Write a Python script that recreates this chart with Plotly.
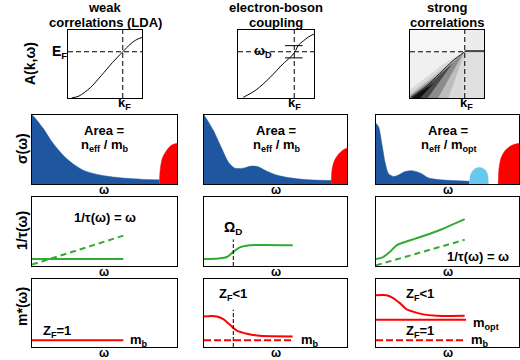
import plotly.graph_objects as go

W, H = 520, 360

# ---------------- data (all in panel fractions 0..1) ----------------
titles_top = ['weak', 'electron-boson', 'strong']
titles_bottom = ['correlations (LDA)', 'coupling', 'correlations']
row_labels = ['A(k,ω)', 'σ(ω)', '1/τ(ω)', 'm*(ω)']

k_F = 0.74
E_F = 0.68

# row 1: band dispersions
lda_k = [0.05, 0.15, 0.30, 0.45, 0.60, 0.74, 0.85, 0.93, 1.0]
lda_e = [0.0, 0.03, 0.15, 0.33, 0.52, 0.68, 0.80, 0.86, 0.89]
eb_k = [0.07, 0.24, 0.42, 0.59, 0.68, 0.73, 0.76, 0.79, 0.86, 0.93, 1.0]
eb_e = [0.01, 0.12, 0.30, 0.50, 0.59, 0.65, 0.70, 0.77, 0.84, 0.90, 0.94]
wD_lo, wD_hi = 0.59, 0.77
wD_k = [0.62, 0.85]

# strong correlations: grey bands of spectral weight (outer -> inner)
wedge_x = [
    [0.0, 0.70, 0.74, 0.45, 0.0],
    [0.0, 0.52, 0.74, 0.50, 0.0],
    [0.02, 0.38, 0.72, 0.45, 0.0],
    [0.02, 0.24, 0.58, 0.30, 0.0],
    [0.03, 0.14, 0.32, 0.10],
]
wedge_y = [
    [0.0, 0.0, 0.68, 0.50, 0.12],
    [0.0, 0.0, 0.68, 0.48, 0.06],
    [0.0, 0.0, 0.66, 0.40, 0.03],
    [0.0, 0.0, 0.52, 0.24, 0.01],
    [0.0, 0.0, 0.22, 0.06],
]
wedge_col = ['#dadada', '#bdbdbd', '#8c8c8c', '#4a4a4a', '#111111']
qp_k = [0.03, 0.20, 0.40, 0.58, 0.74]
qp_e = [0.01, 0.15, 0.36, 0.55, 0.68]

# row 2: optical conductivity
drude1_w = [0.0, 0.007, 0.076, 0.145, 0.238, 0.353, 0.469, 0.607, 0.746, 0.878]
drude1_s = [1.0, 0.99, 0.81, 0.59, 0.37, 0.20, 0.13, 0.09, 0.07, 0.06]
inter1_w = [0.878, 0.885, 0.90, 0.93, 0.96, 1.0]
inter1_s = [0.0, 0.22, 0.38, 0.49, 0.56, 0.59]

drude2_w = [0.0, 0.007, 0.065, 0.123, 0.17, 0.216, 0.274, 0.333, 0.379, 0.426, 0.507, 0.60, 0.74, 0.89]
drude2_s = [1.0, 0.98, 0.78, 0.52, 0.32, 0.23, 0.23, 0.26, 0.25, 0.20, 0.13, 0.09, 0.06, 0.05]
inter2_w = [0.89, 0.895, 0.91, 0.94, 0.97, 1.0]
inter2_s = [0.0, 0.20, 0.33, 0.43, 0.49, 0.52]

drude3_w = [0.0, 0.018, 0.042, 0.065, 0.088, 0.122, 0.157, 0.203, 0.261, 0.319, 0.365, 0.457, 0.654]
drude3_s = [0.88, 0.83, 0.57, 0.30, 0.15, 0.11, 0.13, 0.18, 0.19, 0.15, 0.09, 0.06, 0.04]
mir3_w = [0.654, 0.66, 0.675, 0.70, 0.72, 0.745, 0.77, 0.782, 0.785]
mir3_s = [0.0, 0.12, 0.19, 0.23, 0.24, 0.23, 0.19, 0.12, 0.0]
inter3_w = [0.855, 0.86, 0.875, 0.905, 0.95, 1.0]
inter3_s = [0.0, 0.22, 0.38, 0.49, 0.56, 0.59]

# row 3: scattering rate
tau1_w = [0.0, 0.63]
tau1 = [0.10, 0.10]
lin1 = [0.02, 0.44]
tau2_w = [0.0, 0.10, 0.16, 0.205, 0.25, 0.32, 0.62]
tau2 = [0.10, 0.11, 0.13, 0.205, 0.27, 0.30, 0.30]
omegaD = 0.205
tau3_w = [0.0, 0.05, 0.097, 0.144, 0.19, 0.28, 0.42, 0.62]
tau3 = [0.10, 0.13, 0.205, 0.30, 0.34, 0.40, 0.50, 0.68]
lin3_w = [0.0, 0.62]
lin3 = [0.01, 0.38]

# row 4: effective mass
mb_w = [0.0, 0.63]
mb = [0.10, 0.10]
m2_w = [0.0, 0.09, 0.135, 0.18, 0.23, 0.30, 0.39, 0.62]
m2 = [0.45, 0.45, 0.41, 0.33, 0.24, 0.195, 0.165, 0.156]
m3_w = [0.0, 0.074, 0.12, 0.167, 0.213, 0.259, 0.329, 0.421, 0.62]
m3 = [0.76, 0.76, 0.72, 0.645, 0.555, 0.52, 0.48, 0.46, 0.46]
mopt = [0.40, 0.40]

# ---------------- layout helpers ----------------
col_px = [[(68, 142), (238, 314), (410, 484)]] + [[(32, 177), (204, 347), (376, 519)]] * 3
row_px = [(30, 98), (115, 184), (197, 266), (279, 347)]

BLUE = '#1f56a0'
RED = '#ff0000'
GREEN = '#33aa33'
FONT = 'Liberation Sans, Arial, sans-serif'


def px(x):
    return x / W


def py(y):
    return 1 - y / H


fig = go.Figure()
layout = {}
for r in range(4):
    for c in range(3):
        i = r * 3 + c + 1
        sx = '' if i == 1 else str(i)
        x0, x1 = col_px[r][c]
        y0, y1 = row_px[r]
        ax = dict(range=[0, 1], showticklabels=False, showgrid=False, zeroline=False,
                  showline=True, mirror=True, linecolor='black', linewidth=1,
                  ticks='', fixedrange=True)
        layout['xaxis' + sx] = dict(ax, domain=[px(x0), px(x1)], anchor='y' + sx)
        layout['yaxis' + sx] = dict(ax, domain=[py(y1), py(y0)], anchor='x' + sx)


def ref(i):
    return ('x' if i == 1 else 'x%d' % i), ('y' if i == 1 else 'y%d' % i)


def line(i, x, y, color, width=2, dash=None, fill=None, fillcolor=None, shape='spline'):
    xr, yr = ref(i)
    fig.add_trace(go.Scatter(x=x, y=y, xaxis=xr, yaxis=yr, mode='lines',
                             line=dict(color=color, width=width, dash=dash, shape=shape, smoothing=0.8),
                             fill=fill, fillcolor=fillcolor, hoverinfo='skip', showlegend=False))


DASH_K = '5px,3px'

# row 1 -------------------------------------------------------------
for i in (1, 2):
    line(i, [0, 1], [E_F, E_F], 'black', 1, DASH_K, shape='linear')
    line(i, [k_F, k_F], [0, 1], 'black', 1, DASH_K, shape='linear')
line(1, lda_k, lda_e, 'black', 1)
line(2, eb_k, eb_e, 'black', 1)
line(2, wD_k, [wD_hi, wD_hi], 'black', 1, shape='linear')
line(2, wD_k, [wD_lo, wD_lo], 'black', 1, shape='linear')

# strong correlations image
line(3, [0, 1, 1, 0], [E_F, E_F, 1, 1], '#f7f7f7', 0, fill='toself', fillcolor='#f7f7f7', shape='linear')
line(3, [k_F, 1, 1, k_F], [E_F, E_F, 1, 1], '#ececec', 0, fill='toself', fillcolor='#ececec', shape='linear')
line(3, [0, 1, 1, 0], [0, 0, E_F, E_F], '#f0f0f0', 0, fill='toself', fillcolor='#f0f0f0', shape='linear')
line(3, [0.5, 1, 1, k_F], [0, 0, E_F, E_F], '#e0e0e0', 0, fill='toself', fillcolor='#e0e0e0', shape='linear')
for wx, wy, wc in zip(wedge_x, wedge_y, wedge_col):
    line(3, wx, wy, wc, 0, fill='toself', fillcolor=wc, shape='linear')
line(3, qp_k, qp_e, '#222222', 1)
line(3, [k_F, 1], [E_F + 0.01, E_F + 0.01], '#444444', 2, shape='linear')
line(3, [0, k_F], [E_F, E_F], 'black', 1, DASH_K, shape='linear')
line(3, [k_F, k_F], [0, 1], 'black', 1, DASH_K, shape='linear')

# row 2 -------------------------------------------------------------
for i, dw, ds, iw, is_ in ((4, drude1_w, drude1_s, inter1_w, inter1_s),
                           (5, drude2_w, drude2_s, inter2_w, inter2_s),
                           (6, drude3_w, drude3_s, inter3_w, inter3_s)):
    line(i, dw, ds, BLUE, 0.5, fill='tozeroy', fillcolor=BLUE)
    line(i, iw, is_, RED, 0.5, fill='tozeroy', fillcolor=RED)
line(6, mir3_w, mir3_s, '#66c8ee', 0.5, fill='tozeroy', fillcolor='#66c8ee')

# row 3 -------------------------------------------------------------
line(7, tau1_w, tau1, GREEN, 2, shape='linear')
line(7, tau1_w, lin1, GREEN, 2, '6px,4px', shape='linear')
line(8, tau2_w, tau2, GREEN, 2)
line(8, [omegaD, omegaD], [0, 0.385], 'black', 1, '4px,2px', shape='linear')
line(9, tau3_w, tau3, GREEN, 2)
line(9, lin3_w, lin3, GREEN, 2, '6px,4px', shape='linear')

# row 4 -------------------------------------------------------------
line(10, mb_w, mb, RED, 2, shape='linear')
line(11, mb_w, mb, RED, 2, '7px,3px', shape='linear')
line(11, m2_w, m2, RED, 2)
line(11, [omegaD, omegaD], [0, 0.55], 'black', 1, '4px,2px', shape='linear')
line(12, mb_w, mb, RED, 2, '7px,3px', shape='linear')
line(12, m3_w, m3, RED, 2)
line(12, mb_w, mopt, RED, 2, shape='linear')

# ---------------- text ----------------
ann = []


def text(x, y, s, size=13, angle=0):
    ann.append(dict(x=px(x), y=py(y), xref='paper', yref='paper', text='<b>%s</b>' % s,
                    showarrow=False, xanchor='center', yanchor='middle', textangle=angle,
                    borderpad=0, font=dict(family=FONT, size=size, color='black')))


for t1, t2, xc in zip(titles_top, titles_bottom, (105, 276, 447)):
    text(xc, 7.5, t1, 13)
    text(xc, 22.5, t2, 13)

text(30, 64, row_labels[0], 14, -90)
text(22, 149, row_labels[1], 14, -90)
text(22, 231, row_labels[2], 14, -90)
text(22, 307, row_labels[3], 14, -90)

text(59, 52, 'E<sub>F</sub>', 14)
text(263, 52, 'ω<sub>D</sub>', 13)
for xk in (124, 294, 466):
    text(xk, 104, 'k<sub>F</sub>', 13)

for xc in (104, 276, 448):
    text(xc, 130, 'Area =', 13)
text(104, 145, 'n<sub>eff</sub> / m<sub>b</sub>', 13)
text(276, 145, 'n<sub>eff</sub> / m<sub>b</sub>', 13)
text(449, 145, 'n<sub>eff</sub> / m<sub>opt</sub>', 13)

for yc in (190, 272, 353):
    for xc in (104, 276, 448):
        text(xc, yc, 'ω', 12)

text(105, 218, '1/τ(ω) = ω', 13)
text(478, 256, '1/τ(ω) = ω', 13)
text(233, 228, 'Ω<sub>D</sub>', 14)

text(57, 331, 'Z<sub>F</sub>=1', 13)
text(139, 340, 'm<sub>b</sub>', 13)
text(233, 294, 'Z<sub>F</sub><1', 13)
text(310, 340, 'm<sub>b</sub>', 13)
text(420, 294, 'Z<sub>F</sub><1', 13)
text(486, 323, 'm<sub>opt</sub>', 13)
text(420, 331, 'Z<sub>F</sub>=1', 13)
text(480, 340, 'm<sub>b</sub>', 13)

fig.update_layout(**layout)
fig.update_layout(width=W, height=H, margin=dict(l=0, r=0, t=0, b=0),
                  paper_bgcolor='white', plot_bgcolor='white', annotations=ann,
                  showlegend=False)

fig.write_html("out.html", config={'displayModeBar': False},
               post_script="document.body.style.margin='0';")
